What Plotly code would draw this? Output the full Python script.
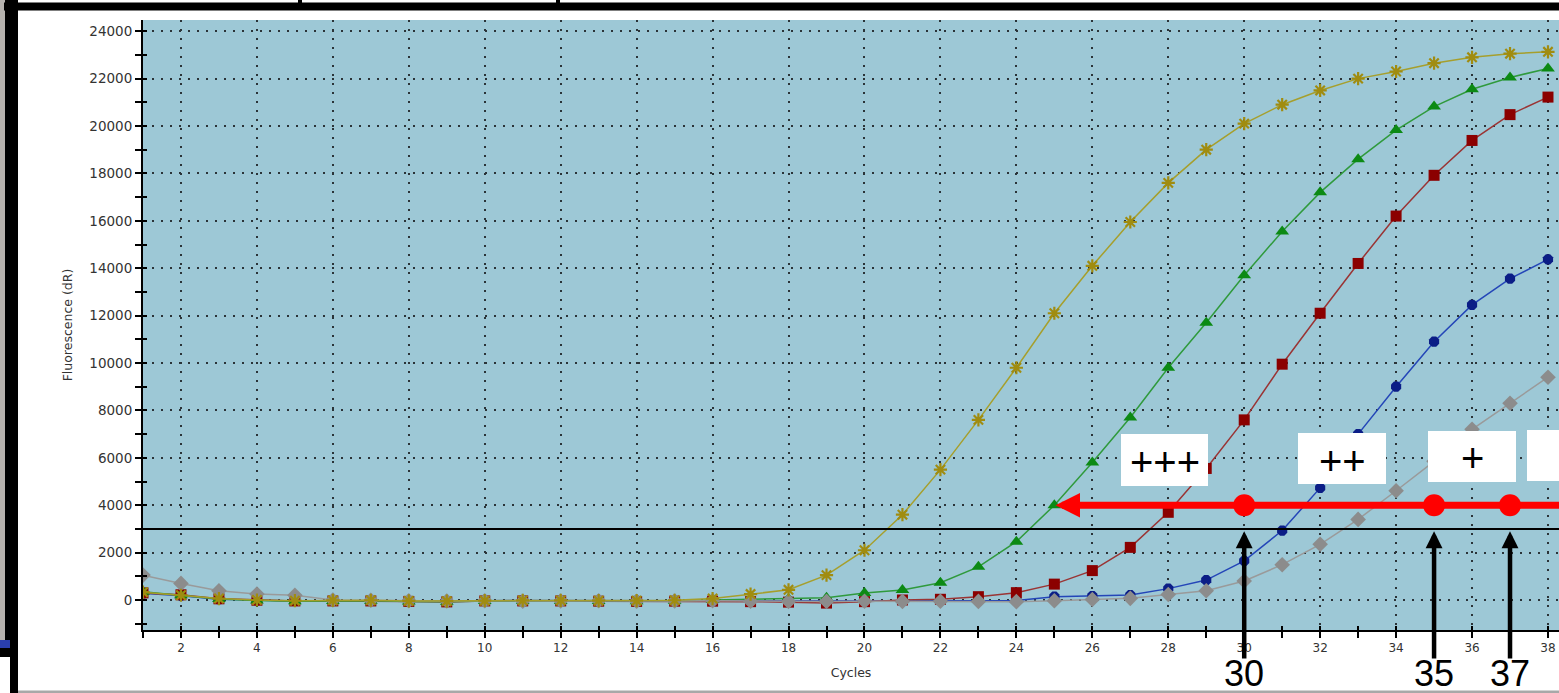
import plotly.graph_objects as go

# ---------------- data ----------------
cycles = list(range(1, 39))

yellow = [330, 200, 60, 0, -30, -20, -10, -40, -50, -30, -20, -20, -30, -30, -10, 60,
          250, 430, 1050, 2100, 3600, 5500, 7600, 9800, 12100, 14100, 15950, 17600,
          19000, 20100, 20900, 21500, 22000, 22300, 22650, 22900, 23050, 23130]
green = [350, 200, 40, -20, -50, -40, -30, -60, -70, -40, -40, -40, -40, -50, -30, 0,
         40, 50, 100, 300, 420, 730, 1400, 2460, 4000, 5800, 7700, 9800, 11700, 13700,
         15550, 17200, 18600, 19830, 20820, 21550, 22050, 22430]
red = [300, 220, 50, -10, -40, -40, -40, -60, -80, -40, -40, -40, -50, -60, -50, -50,
       -70, -90, -130, -70, 0, 30, 140, 310, 670, 1240, 2220, 3700, 5550, 7600, 9950,
       12100, 14200, 16200, 17920, 19390, 20480, 21220]
blue = [280, 180, 30, -20, -40, -30, -30, -50, -60, -30, -20, -30, -30, -40, -30, -30,
        -40, -50, -50, -40, -30, -20, -10, -20, 140, 170, 210, 480, 840, 1650, 2930,
        4730, 7000, 9000, 10900, 12450, 13560, 14370]
gray = [1050, 700, 390, 250, 200, 0, -10, -30, -40, -30, -50, -40, -30, -50, -40, -30,
        -50, -60, -60, -50, -60, -50, -60, -70, -30, 20, 70, 230, 390, 800, 1490, 2350,
        3400, 4610, 5850, 7200, 8300, 9400]

threshold = 3000
arrow_level = 4000
arrow_tip_cycle = 25
ct_cycles = [30, 35, 37]
ct_labels = ["30", "35", "37"]
box_labels = ["+++", "++", "+", ""]

x_tick_vals = list(range(2, 39, 2))
x_tick_text = [str(v) for v in x_tick_vals]
y_tick_vals = list(range(0, 24001, 2000))
y_tick_text = [str(v) for v in y_tick_vals]

# ---------------- layout geometry (pixels) ----------------
W, H = 1559, 693
ML, MR, MT, MB = 143, 0, 20, 63
PW, PH = W - ML - MR, H - MT - MB


def xp(px):
    return (px - ML) / PW


def yp(py):
    return (H - MB - py) / PH


XR = [1, 38.29]
YR = [-1266, 24473]

fig = go.Figure()

series = [
    ("blue", blue, "#2446b8", "#0b1d86", "octagon", 11),
    ("red", red, "#9a3434", "#8b0000", "square", 11),
    ("green", green, "#2f9a3c", "#0c8a14", "triangle-up", 12),
    ("gray", gray, "#9a9a9a", "#8c8c8c", "diamond", 12),
    ("yellow", yellow, "#a69f2c", "#a08c10", "asterisk", 11),
]
for name, vals, lc, mc, sym, sz in series:
    marker = dict(symbol=sym, size=sz, color=mc, line=dict(width=0))
    if sym == "asterisk":
        marker["line"] = dict(width=2.2, color=mc)
    fig.add_trace(go.Scatter(x=cycles, y=vals, mode="lines+markers", name=name,
                             line=dict(color=lc, width=1.5), marker=marker,
                             showlegend=False, hoverinfo="skip"))

# dummy trace for overlay axes (inner tick marks)
fig.add_trace(go.Scatter(x=[None], y=[None], xaxis="x2", yaxis="y2", showlegend=False))

# red Ct dots
fig.add_trace(go.Scatter(x=ct_cycles, y=[arrow_level] * len(ct_cycles), mode="markers",
                         marker=dict(size=22, color="#ff0000"), showlegend=False,
                         cliponaxis=False, hoverinfo="skip"))

xtickfont = dict(family="DejaVu Sans", size=12, color="#333333")
ytickfont = dict(family="DejaVu Sans", size=13.5, color="#333333")
titlefont = dict(family="DejaVu Sans", size=12.5, color="#333333")

fig.update_layout(
    width=W, height=H, autosize=False,
    margin=dict(l=ML, r=MR, t=MT, b=MB, pad=0),
    paper_bgcolor="white", plot_bgcolor="#9dc8d6",
    xaxis=dict(range=XR, tickmode="array", tickvals=x_tick_vals, ticktext=x_tick_text,
               ticks="outside", ticklen=6, tickwidth=2, tickcolor="black",
               minor=dict(dtick=1, tick0=0, ticks="outside", ticklen=6, tickwidth=2,
                          tickcolor="black", showgrid=False),
               showline=True, linecolor="black", linewidth=2,
               showgrid=True, gridcolor="#2a3338", gridwidth=2, griddash="2px,7px",
               zeroline=False, tickfont=xtickfont,
               title=dict(text="Cycles", font=titlefont, standoff=14)),
    yaxis=dict(range=YR, tickmode="array", tickvals=y_tick_vals, ticktext=y_tick_text,
               ticks="outside", ticklen=6, tickwidth=2, tickcolor="black",
               minor=dict(dtick=1000, tick0=0, ticks="outside", ticklen=6, tickwidth=2,
                          tickcolor="black", showgrid=False),
               showline=True, linecolor="black", linewidth=2,
               showgrid=True, gridcolor="#2a3338", gridwidth=2, griddash="2px,7px",
               zeroline=False, tickfont=ytickfont,
               title=dict(text="Fluorescence (dR)", font=titlefont, standoff=14)),
    xaxis2=dict(range=XR, overlaying="x", anchor="y", side="bottom", dtick=1, tick0=0,
                ticks="inside", ticklen=4, tickwidth=2, tickcolor="black",
                showticklabels=False, showgrid=False, zeroline=False, showline=False),
    yaxis2=dict(range=YR, overlaying="y", anchor="x", side="left", dtick=1000, tick0=0,
                ticks="inside", ticklen=4, tickwidth=2, tickcolor="black",
                showticklabels=False, showgrid=False, zeroline=False, showline=False),
)

shapes = []
# threshold line
shapes.append(dict(type="line", xref="paper", yref="y", x0=0, x1=1, y0=threshold,
                   y1=threshold, line=dict(color="black", width=2), layer="above"))

# white label boxes (pixel geometry)
box_px = [(1121, 1208, 434, 486), (1298, 1386, 433, 484), (1428, 1516, 431, 482),
          (1527, 1620, 430, 481)]
for (x0, x1, y0, y1) in box_px:
    shapes.append(dict(type="rect", xref="paper", yref="paper", x0=xp(x0), x1=xp(x1),
                       y0=yp(y1), y1=yp(y0), fillcolor="white", line=dict(width=0),
                       layer="above"))


# outer frame pieces
def rect(x0, x1, y0, y1, color):
    shapes.append(dict(type="rect", xref="paper", yref="paper", x0=xp(x0), x1=xp(x1),
                       y0=yp(y1), y1=yp(y0), fillcolor=color, line=dict(width=0),
                       layer="above"))


rect(0, 5, 0, 640, "#b6b2ae")
rect(5, 18, 0, 648, "black")
rect(0, 10, 640, 648, "#2a3fae")
rect(0, 18, 648, 657, "black")
rect(10, 18, 657, 693, "black")
rect(4, W + 2, 2.5, 10.5, "black")
rect(298, 302, 0, 3, "black")
rect(556, 560, 0, 3, "black")
rect(18, W + 2, 690.5, 693.5, "#a8a8a8")

fig.update_layout(shapes=shapes)

annotations = []
# red arrow to the left
annotations.append(dict(x=arrow_tip_cycle + 0.03, y=arrow_level, xref="x", yref="y",
                        ax=XR[1] + 0.3, ay=arrow_level, axref="x", ayref="y",
                        text="", showarrow=True, arrowhead=2, arrowsize=0.7,
                        arrowwidth=7, arrowcolor="#ff0000", standoff=0, startstandoff=0))
# black up arrows + Ct labels
for c, lab in zip(ct_cycles, ct_labels):
    annotations.append(dict(x=c, y=threshold - 100, xref="x", yref="y",
                            ax=c, ay=-2530, axref="x", ayref="y", text="",
                            showarrow=True, arrowhead=2, arrowsize=0.75, arrowwidth=4.5,
                            arrowcolor="black", standoff=0, startstandoff=0))
    annotations.append(dict(x=c, y=yp(673), xref="x", yref="paper", text=lab,
                            showarrow=False, xanchor="center", yanchor="middle",
                            font=dict(family="Liberation Sans, Arial", size=36,
                                      color="black")))
# box texts
for (x0, x1, y0, y1), lab in zip(box_px, box_labels):
    if lab:
        annotations.append(dict(x=xp((x0 + x1) / 2), y=yp((y0 + y1) / 2 + 2),
                                xref="paper", yref="paper", text=lab, showarrow=False,
                                xanchor="center", yanchor="middle",
                                font=dict(family="Liberation Sans, Arial", size=40,
                                          color="black")))
fig.update_layout(annotations=annotations)

fig.write_html("out.html",
               config={"displayModeBar": False, "staticPlot": True},
               post_script="document.body.style.margin='0';"
                           "document.body.style.overflow='hidden';")
